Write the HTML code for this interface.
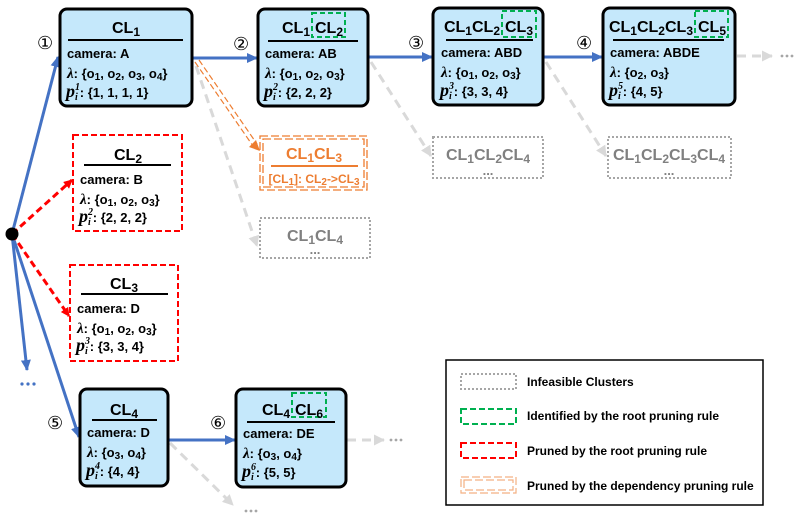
<!DOCTYPE html>
<html><head><meta charset="utf-8"><style>
html,body{margin:0;padding:0;background:#fff;}
svg{display:block;}
text{font-family:"Liberation Sans",sans-serif;font-weight:bold;}
.t{font-size:16px;}
.b{font-size:13px;}
.m{font-family:"Liberation Serif",serif;font-style:italic;}
</style></head><body>
<svg width="798" height="516" viewBox="0 0 798 516" xmlns="http://www.w3.org/2000/svg">
<defs>
<marker id="ab" markerWidth="11" markerHeight="10" refX="10" refY="5" orient="auto" markerUnits="userSpaceOnUse"><path d="M0,0 L11,5 L0,10 z" fill="#4472c4"/></marker>
<marker id="ar" markerWidth="9" markerHeight="9" refX="8" refY="4.5" orient="auto" markerUnits="userSpaceOnUse"><path d="M0,0 L9,4.5 L0,9 z" fill="#ff0000"/></marker>
<marker id="ag" markerWidth="11" markerHeight="11" refX="10" refY="5.5" orient="auto" markerUnits="userSpaceOnUse"><path d="M0,0 L11,5.5 L0,11 z" fill="#d9d9d9"/></marker>
</defs>

<g stroke-width="3" fill="none">
<line x1="12" y1="234" x2="58" y2="57" stroke="#4472c4" marker-end="url(#ab)"/>
<line x1="12" y1="234" x2="27" y2="370" stroke="#4472c4" marker-end="url(#ab)"/>
<line x1="12" y1="234" x2="79" y2="437" stroke="#4472c4" marker-end="url(#ab)"/>
<line x1="12" y1="234" x2="72" y2="180" stroke="#ff0000" stroke-dasharray="7,4" marker-end="url(#ar)"/>
<line x1="12" y1="234" x2="69" y2="316" stroke="#ff0000" stroke-dasharray="7,4" marker-end="url(#ar)"/>
<line x1="192" y1="58" x2="257" y2="58" stroke="#4472c4" marker-end="url(#ab)"/>
<line x1="368" y1="57" x2="432" y2="57" stroke="#4472c4" marker-end="url(#ab)"/>
<line x1="543" y1="57" x2="602" y2="57" stroke="#4472c4" marker-end="url(#ab)"/>
<line x1="168" y1="440" x2="235" y2="440" stroke="#4472c4" marker-end="url(#ab)"/>
<g stroke="#d9d9d9" stroke-dasharray="9,6">
<line x1="196" y1="66" x2="257" y2="246" marker-end="url(#ag)"/>
<line x1="371" y1="62" x2="431" y2="156" marker-end="url(#ag)"/>
<line x1="546" y1="62" x2="606" y2="156" marker-end="url(#ag)"/>
<line x1="737" y1="56" x2="772" y2="56" marker-end="url(#ag)"/>
<line x1="347" y1="440" x2="384" y2="440" marker-end="url(#ag)"/>
<line x1="170" y1="443" x2="233" y2="505" marker-end="url(#ag)"/>
</g>
<g stroke="#ed7d31" stroke-width="1.2" stroke-dasharray="6,3">
<line x1="195" y1="62" x2="253" y2="146"/>
<line x1="199" y1="60" x2="257" y2="144"/>
</g>
<path d="M260,151 L249,147 L256,140 z" fill="#ed7d31"/>
</g>
<circle cx="12" cy="234" r="6.5" fill="#000"/>

<g fill="#4472c4"><circle cx="22" cy="384" r="1.6"/><circle cx="28" cy="384" r="1.6"/><circle cx="34" cy="384" r="1.6"/></g>
<g fill="#a6a6a6">
<circle cx="782" cy="56" r="1.4"/><circle cx="787" cy="56" r="1.4"/><circle cx="792" cy="56" r="1.4"/>
<circle cx="391" cy="440" r="1.4"/><circle cx="396" cy="440" r="1.4"/><circle cx="401" cy="440" r="1.4"/>
<circle cx="246" cy="511" r="1.4"/><circle cx="251" cy="511" r="1.4"/><circle cx="256" cy="511" r="1.4"/>
</g>

<g font-size="18" fill="#000">
<text x="37" y="49" style="font-weight:normal">①</text>
<text x="233" y="50" style="font-weight:normal">②</text>
<text x="408" y="49" style="font-weight:normal">③</text>
<text x="576" y="49" style="font-weight:normal">④</text>
<text x="47" y="429" style="font-weight:normal">⑤</text>
<text x="210" y="429" style="font-weight:normal">⑥</text>
</g>

<g fill="#c5e8fb" stroke="#000" stroke-width="3">
<rect x="60" y="9" width="132" height="97" rx="7"/>
<rect x="258" y="9" width="110" height="97" rx="7"/>
<rect x="433" y="8" width="110" height="97" rx="7"/>
<rect x="603" y="8" width="132" height="97" rx="7"/>
<rect x="80" y="389" width="88" height="97" rx="7"/>
<rect x="236" y="389" width="110" height="98" rx="7"/>
</g>
<g fill="#fff" stroke="#ff0000" stroke-width="2" stroke-dasharray="6,3">
<rect x="73" y="135" width="109" height="96"/>
<rect x="70" y="265" width="108" height="96"/>
</g>
<g fill="none" stroke="#ed7d31" stroke-width="1.3" stroke-dasharray="8,3">
<rect x="260" y="136" width="107" height="54"/>
<rect x="263" y="139" width="101" height="48"/>
</g>
<g fill="#fff" stroke="#a6a6a6" stroke-width="2" stroke-dasharray="2,2">
<rect x="260" y="218" width="110" height="40"/>
<rect x="433" y="137" width="110" height="41"/>
<rect x="608" y="137" width="123" height="41"/>
</g>
<g fill="none" stroke="#00b050" stroke-width="2" stroke-dasharray="5,3">
<rect x="312" y="13" width="33" height="24"/>
<rect x="502" y="11" width="34" height="26"/>
<rect x="695" y="11" width="33" height="26"/>
<rect x="292" y="393" width="34" height="24"/>
</g>

<g stroke="#000" stroke-width="2">
<line x1="68" y1="40" x2="183" y2="40"/>
<line x1="268" y1="41" x2="358" y2="41"/>
<line x1="446" y1="40" x2="533" y2="40"/>
<line x1="613" y1="40" x2="724" y2="40"/>
<line x1="84" y1="165" x2="171" y2="165"/>
<line x1="81" y1="294" x2="168" y2="294"/>
<line x1="92" y1="420" x2="157" y2="420"/>
<line x1="247" y1="422" x2="335" y2="422"/>
</g>
<line x1="271" y1="166" x2="358" y2="166" stroke="#ed7d31" stroke-width="2"/>

<g fill="#000">
<text class="t" x="126" y="33" text-anchor="middle">CL<tspan font-size="12" dy="3">1</tspan></text>
<text class="t" x="310" y="33" text-anchor="end">CL<tspan font-size="12" dy="3">1</tspan></text>
<text class="t" x="315" y="33">CL<tspan font-size="12" dy="3">2</tspan></text>
<text class="t" x="500" y="32" text-anchor="end">CL<tspan font-size="12" dy="3">1</tspan><tspan dy="-3">CL</tspan><tspan font-size="12" dy="3">2</tspan></text>
<text class="t" x="505" y="32">CL<tspan font-size="12" dy="3">3</tspan></text>
<text class="t" x="693" y="32" text-anchor="end">CL<tspan font-size="12" dy="3">1</tspan><tspan dy="-3">CL</tspan><tspan font-size="12" dy="3">2</tspan><tspan dy="-3">CL</tspan><tspan font-size="12" dy="3">3</tspan></text>
<text class="t" x="698" y="32">CL<tspan font-size="12" dy="3">5</tspan></text>
<text class="t" x="128" y="160" text-anchor="middle">CL<tspan font-size="12" dy="3">2</tspan></text>
<text class="t" x="124" y="289" text-anchor="middle">CL<tspan font-size="12" dy="3">3</tspan></text>
<text class="t" x="124" y="415" text-anchor="middle">CL<tspan font-size="12" dy="3">4</tspan></text>
<text class="t" x="290" y="415" text-anchor="end">CL<tspan font-size="12" dy="3">4</tspan></text>
<text class="t" x="295" y="415">CL<tspan font-size="12" dy="3">6</tspan></text>
</g>
<g text-anchor="middle" fill="#ed7d31">
<text class="t" x="314" y="159">CL<tspan font-size="12" dy="3">1</tspan><tspan dy="-3">CL</tspan><tspan font-size="12" dy="3">3</tspan></text>
<text x="314" y="183" font-size="12">[CL<tspan font-size="10" dy="2">1</tspan><tspan dy="-2">]: CL</tspan><tspan font-size="10" dy="2">2</tspan><tspan dy="-2">-&gt;CL</tspan><tspan font-size="10" dy="2">3</tspan></text>
</g>
<g text-anchor="middle" fill="#808080">
<text class="t" x="315" y="241">CL<tspan font-size="12" dy="3">1</tspan><tspan dy="-3">CL</tspan><tspan font-size="12" dy="3">4</tspan></text>
<text class="b" x="315" y="254">...</text>
<text class="t" x="488" y="160">CL<tspan font-size="12" dy="3">1</tspan><tspan dy="-3">CL</tspan><tspan font-size="12" dy="3">2</tspan><tspan dy="-3">CL</tspan><tspan font-size="12" dy="3">4</tspan></text>
<text class="b" x="488" y="175">...</text>
<text class="t" x="669" y="160">CL<tspan font-size="12" dy="3">1</tspan><tspan dy="-3">CL</tspan><tspan font-size="12" dy="3">2</tspan><tspan dy="-3">CL</tspan><tspan font-size="12" dy="3">3</tspan><tspan dy="-3">CL</tspan><tspan font-size="12" dy="3">4</tspan></text>
<text class="b" x="669" y="175">...</text>
</g>

<g fill="#000">
<text class="b" x="67" y="58">camera: A</text>
<text class="b" x="67" y="78"><tspan class="m" font-size="15">λ</tspan>: {o<tspan font-size="10" dy="2">1</tspan><tspan dy="-2">, o</tspan><tspan font-size="10" dy="2">2</tspan><tspan dy="-2">, o</tspan><tspan font-size="10" dy="2">3</tspan><tspan dy="-2">, o</tspan><tspan font-size="10" dy="2">4</tspan><tspan dy="-2">}</tspan></text>
<text class="b" x="66" y="97"><tspan class="m" font-size="18">p</tspan><tspan class="m" font-size="10" dy="-7">1</tspan><tspan class="m" font-size="10" dx="-5" dy="10">i</tspan><tspan dy="-3" dx="2">: {1, 1, 1, 1}</tspan></text>

<text class="b" x="265" y="58">camera: AB</text>
<text class="b" x="265" y="78"><tspan class="m" font-size="15">λ</tspan>: {o<tspan font-size="10" dy="2">1</tspan><tspan dy="-2">, o</tspan><tspan font-size="10" dy="2">2</tspan><tspan dy="-2">, o</tspan><tspan font-size="10" dy="2">3</tspan><tspan dy="-2">}</tspan></text>
<text class="b" x="264" y="97"><tspan class="m" font-size="18">p</tspan><tspan class="m" font-size="10" dy="-7">2</tspan><tspan class="m" font-size="10" dx="-5" dy="10">i</tspan><tspan dy="-3" dx="2">: {2, 2, 2}</tspan></text>

<text class="b" x="441" y="57">camera: ABD</text>
<text class="b" x="441" y="77"><tspan class="m" font-size="15">λ</tspan>: {o<tspan font-size="10" dy="2">1</tspan><tspan dy="-2">, o</tspan><tspan font-size="10" dy="2">2</tspan><tspan dy="-2">, o</tspan><tspan font-size="10" dy="2">3</tspan><tspan dy="-2">}</tspan></text>
<text class="b" x="440" y="96"><tspan class="m" font-size="18">p</tspan><tspan class="m" font-size="10" dy="-7">3</tspan><tspan class="m" font-size="10" dx="-5" dy="10">i</tspan><tspan dy="-3" dx="2">: {3, 3, 4}</tspan></text>

<text class="b" x="610" y="57">camera: ABDE</text>
<text class="b" x="610" y="77"><tspan class="m" font-size="15">λ</tspan>: {o<tspan font-size="10" dy="2">2</tspan><tspan dy="-2">, o</tspan><tspan font-size="10" dy="2">3</tspan><tspan dy="-2">}</tspan></text>
<text class="b" x="609" y="96"><tspan class="m" font-size="18">p</tspan><tspan class="m" font-size="10" dy="-7">5</tspan><tspan class="m" font-size="10" dx="-5" dy="10">i</tspan><tspan dy="-3" dx="2">: {4, 5}</tspan></text>

<text class="b" x="80" y="184">camera: B</text>
<text class="b" x="80" y="204"><tspan class="m" font-size="15">λ</tspan>: {o<tspan font-size="10" dy="2">1</tspan><tspan dy="-2">, o</tspan><tspan font-size="10" dy="2">2</tspan><tspan dy="-2">, o</tspan><tspan font-size="10" dy="2">3</tspan><tspan dy="-2">}</tspan></text>
<text class="b" x="79" y="222"><tspan class="m" font-size="18">p</tspan><tspan class="m" font-size="10" dy="-7">2</tspan><tspan class="m" font-size="10" dx="-5" dy="10">i</tspan><tspan dy="-3" dx="2">: {2, 2, 2}</tspan></text>

<text class="b" x="77" y="313">camera: D</text>
<text class="b" x="77" y="333"><tspan class="m" font-size="15">λ</tspan>: {o<tspan font-size="10" dy="2">1</tspan><tspan dy="-2">, o</tspan><tspan font-size="10" dy="2">2</tspan><tspan dy="-2">, o</tspan><tspan font-size="10" dy="2">3</tspan><tspan dy="-2">}</tspan></text>
<text class="b" x="76" y="351"><tspan class="m" font-size="18">p</tspan><tspan class="m" font-size="10" dy="-7">3</tspan><tspan class="m" font-size="10" dx="-5" dy="10">i</tspan><tspan dy="-3" dx="2">: {3, 3, 4}</tspan></text>

<text class="b" x="87" y="437">camera: D</text>
<text class="b" x="87" y="457"><tspan class="m" font-size="15">λ</tspan>: {o<tspan font-size="10" dy="2">3</tspan><tspan dy="-2">, o</tspan><tspan font-size="10" dy="2">4</tspan><tspan dy="-2">}</tspan></text>
<text class="b" x="86" y="476"><tspan class="m" font-size="18">p</tspan><tspan class="m" font-size="10" dy="-7">4</tspan><tspan class="m" font-size="10" dx="-5" dy="10">i</tspan><tspan dy="-3" dx="2">: {4, 4}</tspan></text>

<text class="b" x="243" y="438">camera: DE</text>
<text class="b" x="243" y="458"><tspan class="m" font-size="15">λ</tspan>: {o<tspan font-size="10" dy="2">3</tspan><tspan dy="-2">, o</tspan><tspan font-size="10" dy="2">4</tspan><tspan dy="-2">}</tspan></text>
<text class="b" x="242" y="477"><tspan class="m" font-size="18">p</tspan><tspan class="m" font-size="10" dy="-7">6</tspan><tspan class="m" font-size="10" dx="-5" dy="10">i</tspan><tspan dy="-3" dx="2">: {5, 5}</tspan></text>
</g>

<rect x="446" y="360" width="317" height="145" fill="#fff" stroke="#000" stroke-width="1.5"/>
<rect x="461" y="374" width="55" height="15" fill="none" stroke="#a6a6a6" stroke-width="2" stroke-dasharray="2,2"/>
<rect x="461" y="409" width="55" height="15" fill="none" stroke="#00b050" stroke-width="2" stroke-dasharray="6,3"/>
<rect x="461" y="443" width="55" height="15" fill="none" stroke="#ff0000" stroke-width="2" stroke-dasharray="6,3"/>
<rect x="461" y="477" width="55" height="16" fill="none" stroke="#f4b183" stroke-width="1.2" stroke-dasharray="8,3"/>
<rect x="464" y="480" width="49" height="10" fill="none" stroke="#f4b183" stroke-width="1.2" stroke-dasharray="8,3"/>
<g fill="#000">
<text x="527" y="386" font-size="12">Infeasible Clusters</text>
<text x="527" y="420" font-size="12">Identified by the root pruning rule</text>
<text x="527" y="455" font-size="12">Pruned by the root pruning rule</text>
<text x="527" y="490" font-size="12">Pruned by the dependency pruning rule</text>
</g>
</svg>
</body></html>
